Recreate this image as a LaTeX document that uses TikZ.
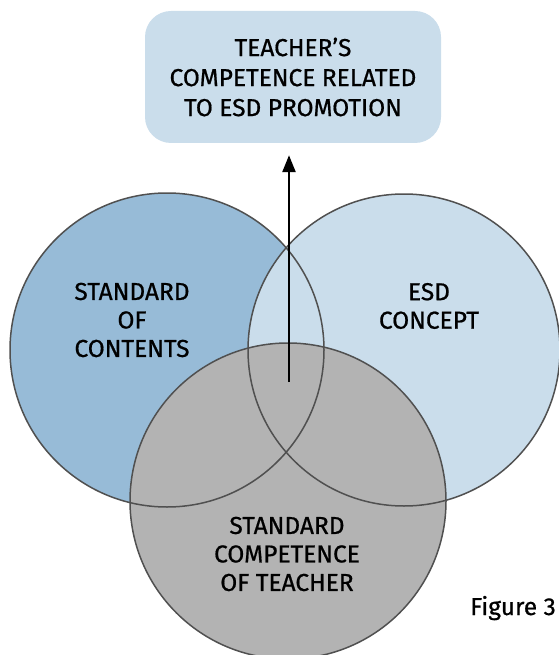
\documentclass[tikz,border=0pt]{standalone}
\usepackage{fontspec}
\setmainfont{Fira Sans}[FakeBold=0.7]
\usetikzlibrary{arrows.meta}
\definecolor{boxblue}{HTML}{CADDEB}
\definecolor{leftblue}{HTML}{97BBD7}
\definecolor{rightblue}{HTML}{CADDEB}
\definecolor{greyfill}{HTML}{B3B3B3}
\definecolor{edgegrey}{HTML}{505050}
\begin{document}
\begin{tikzpicture}[x=1pt,y=-1pt,
  lbl/.style={align=center, font=\fontsize{24.5}{28.5}\selectfont, text=black, inner sep=0pt},
  disc/.style={circle, inner sep=0pt, minimum size=#1},
  ringline/.style={circle, inner sep=0pt, draw=edgegrey, line width=1.5pt, minimum size=#1},
  topbox/.style={rounded corners=26pt, fill=boxblue, minimum width=296pt, minimum height=132pt, align=center, font=\fontsize{24.5}{30}\selectfont, inner sep=0pt},
  arrowline/.style={line width=2.5pt, -{Triangle[length=17pt,width=13pt]}}]
\useasboundingbox (0,0) rectangle (558,655);
% top box
\node[topbox] (box) at (293,77) {TEACHER'S\\COMPETENCE RELATED\\TO ESD PROMOTION};
% circle fills
\node[disc=314pt, fill=leftblue] (L) at (167,350) {};
\node[disc=312pt, fill=rightblue] (R) at (404,350) {};
\node[disc=316pt, fill=greyfill] (B) at (288,501) {};
% outlines
\node[ringline=314pt] (Lo) at (L.center) {};
\node[ringline=312pt] (Ro) at (R.center) {};
\node[ringline=316pt] (Bo) at (B.center) {};
% labels
\node[lbl] (lt) at (132,320) {STANDARD\\OF\\CONTENTS};
\node[lbl] (rt) at (429,306) {ESD\\CONCEPT};
\node[lbl] (bt) at (287,554) {STANDARD\\COMPETENCE\\OF TEACHER};
% arrow
\coordinate (ab) at (289,382);
\draw[arrowline, shorten >=12pt] (ab) -- (box.south -| ab);
% caption
\node[anchor=base west, inner sep=0pt, font=\fontsize{24.5}{28}\selectfont] (fig) at (470,615) {Figure 3};
\end{tikzpicture}
\end{document}
